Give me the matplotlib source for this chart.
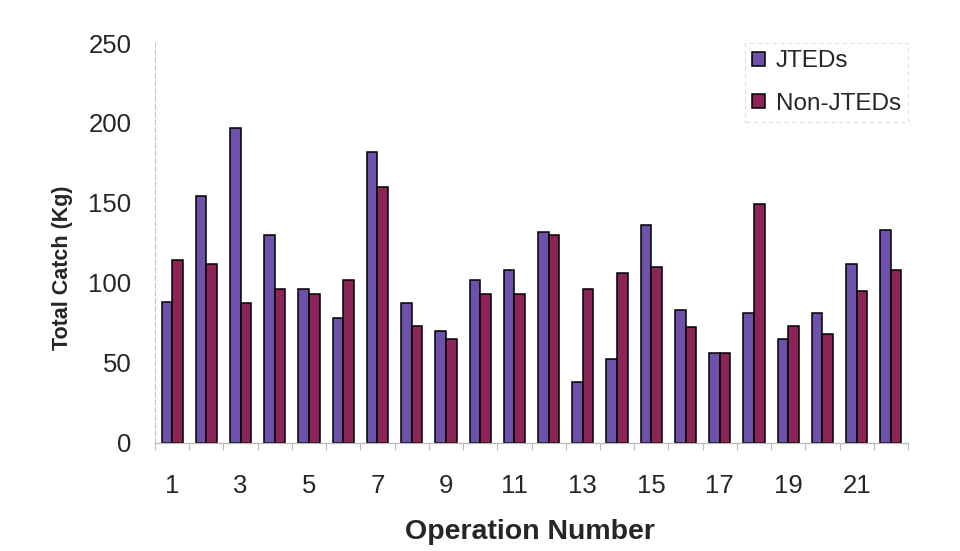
import numpy as np
import matplotlib
matplotlib.use("Agg")
import matplotlib.pyplot as plt
from matplotlib.ticker import FixedLocator, NullFormatter

plt.rcParams['font.family'] = ['Liberation Sans', 'DejaVu Sans']

operations = list(range(1, 23))
jteds = [88, 154, 197, 130, 96, 78, 182, 87, 70, 102, 108, 132,
         38, 52, 136, 83, 56, 81, 65, 81, 112, 133]
non_jteds = [114, 112, 87, 96, 93, 102, 160, 73, 65, 93, 93, 130,
             96, 106, 110, 72, 56, 149, 73, 68, 95, 108]
odd_labels = [str(n) for n in operations if n % 2 == 1]

JTED_COLOR = '#6E52AA'
NON_COLOR = '#8C2557'
TEXT = '#262626'

fig = plt.figure(figsize=(9.6, 5.51), dpi=100)
ax = fig.add_axes([155 / 960, 1 - 442.5 / 551, (908 - 155) / 960, (442.5 - 43) / 551])

x = np.array(operations, dtype=float)
w = 0.31
ax.bar(x - w / 2, jteds, width=w, color=JTED_COLOR, edgecolor='black',
       linewidth=1.1, label='JTEDs')
ax.bar(x + w / 2, non_jteds, width=w, color=NON_COLOR, edgecolor='black',
       linewidth=1.1, label='Non-JTEDs')

ax.set_xlim(0.5, 22.5)
ax.set_ylim(0, 250)

# Category separators as tick marks, labels on every other operation
ax.xaxis.set_major_locator(FixedLocator(np.arange(0.5, 23, 1.0)))
ax.xaxis.set_major_formatter(NullFormatter())
ax.xaxis.set_minor_locator(FixedLocator([n for n in operations if n % 2 == 1]))
ax.set_xticklabels(odd_labels, minor=True)
ax.tick_params(axis='x', which='major', direction='out', length=5,
               width=0.8, color='#bbbbbb')
ax.tick_params(axis='x', which='minor', length=0, pad=23,
               labelsize=18.5, labelcolor=TEXT)

ax.set_yticks([0, 50, 100, 150, 200, 250])
ax.tick_params(axis='y', length=0, pad=17, labelsize=18.5, labelcolor=TEXT)

for side in ('top', 'right'):
    ax.spines[side].set_visible(False)
ax.spines['left'].set_color('#c4c4c4')
ax.spines['left'].set_linewidth(0.8)
ax.spines['left'].set_linestyle((0, (4, 3)))
ax.spines['bottom'].set_color('#bbbbbb')
ax.spines['bottom'].set_linewidth(0.9)

ax.set_ylabel('Total Catch (Kg)', fontsize=15.5, fontweight='bold',
              color=TEXT, va='center')
ax.yaxis.set_label_coords(-0.123, 0.437)
ax.set_xlabel('Operation Number', fontsize=20.5, fontweight='bold',
              color=TEXT, va='center')
ax.xaxis.set_label_coords(0.498, -0.224)

leg = ax.legend(loc='upper right', bbox_to_anchor=(1.0, 1.0), borderaxespad=0,
                fontsize=17.5, frameon=True, fancybox=False,
                handlelength=0.5, handleheight=0.5, handletextpad=0.45,
                labelspacing=0.85, borderpad=0.3)
leg.get_frame().set_edgecolor('#d8d8d8')
leg.get_frame().set_linewidth(0.8)
leg.get_frame().set_linestyle((0, (4, 3)))
for t in leg.get_texts():
    t.set_color(TEXT)

fig.savefig('out.png', dpi=100, facecolor='white')
